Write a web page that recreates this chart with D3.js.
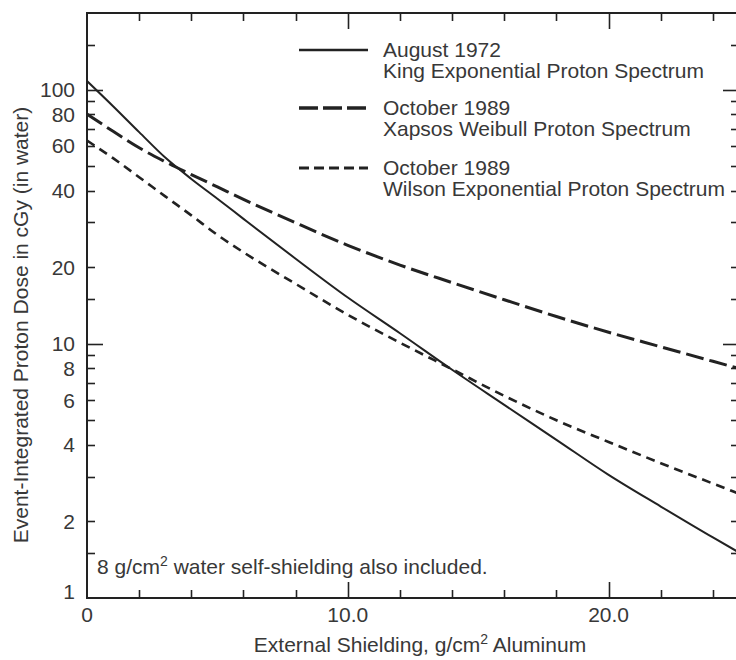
<!DOCTYPE html>
<html>
<head>
<meta charset="utf-8">
<script src="https://cdn.jsdelivr.net/npm/d3@7"></script>
<style>
  html, body { margin: 0; padding: 0; background: #fff; }
  svg { display: block; font-family: "Liberation Sans", Arial, Helvetica, sans-serif; }
</style>
</head>
<body>
<div id="chart"></div>
<script>
// ---- data ----
const shielding = [0, 1, 2, 3, 4, 5, 6, 8, 10, 12, 14, 16, 18, 20, 22, 24, 25];
const kingAug1972 = [108, 86, 68, 54, 44.5, 37.2, 31.0, 21.6, 15.2, 11.0, 7.9, 5.75, 4.19, 3.05, 2.29, 1.73, 1.51];
const xapsosOct1989 = [80, 68.5, 59, 52, 46.3, 41.4, 37, 29.9, 24.4, 20.4, 17.4, 14.9, 12.8, 11.1, 9.73, 8.53, 8.0];
const wilsonOct1989 = [63, 53.7, 45.2, 38, 32, 26.8, 22.9, 17.2, 13.0, 10.1, 7.94, 6.24, 5.0, 4.11, 3.39, 2.82, 2.57];

const yTickValues = [1.5, 2, 3, 4, 5, 6, 7, 8, 9, 10, 15, 20, 30, 40, 50, 60, 70, 80, 90, 100, 150];
const yMajorTicks = [10, 100];
const yTickLabels = [1, 2, 4, 6, 8, 10, 20, 40, 60, 80, 100];
const xTickValues = [2, 4, 6, 8, 10, 12, 14, 16, 18, 20, 22, 24];
const xMajorTicks = [10, 20];
const xTickLabels = [[0, "0"], [10, "10.0"], [20, "20.0"]];

const seriesNames = [
  ["August 1972", "King Exponential Proton Spectrum"],
  ["October 1989", "Xapsos Weibull Proton Spectrum"],
  ["October 1989", "Wilson Exponential Proton Spectrum"]
];

// ---- layout ----
const W = 736, H = 660;
const pL = 87, pR = 739, pT = 13, pB = 598;
const ink = "#222", textInk = "#383838";

const svg = d3.select("#chart").append("svg").attr("width", W).attr("height", H);

const x = d3.scaleLinear().domain([0, 25]).range([pL, pR]);
const y = d3.scaleLog().domain([1, 200]).range([pB, pT]);

// frame
svg.append("rect").attr("x", pL).attr("y", pT).attr("width", pR - pL).attr("height", pB - pT)
  .attr("fill", "none").attr("stroke", ink).attr("stroke-width", 2);

// y ticks left/right
const yt = svg.append("g").attr("stroke", ink).attr("stroke-width", 1.6);
yTickValues.forEach(v => {
  const len = yMajorTicks.includes(v) ? 16 : 8;
  const yy = Math.round(y(v)) + 0.5;
  yt.append("line").attr("x1", pL).attr("x2", pL + len).attr("y1", yy).attr("y2", yy);
  yt.append("line").attr("x1", pR).attr("x2", pR - len).attr("y1", yy).attr("y2", yy);
});
// x ticks bottom/top
xTickValues.forEach(v => {
  const len = xMajorTicks.includes(v) ? 16 : 8;
  const xx = Math.round(x(v)) + 0.5;
  yt.append("line").attr("x1", xx).attr("x2", xx).attr("y1", pB).attr("y2", pB - len);
  yt.append("line").attr("x1", xx).attr("x2", xx).attr("y1", pT).attr("y2", pT + len);
});

// tick labels
const fs = 21;
svg.append("g").selectAll("text").data(yTickLabels).join("text")
  .attr("x", pL - 12).attr("y", d => y(d) + (d === 1 ? 1 : 7.5))
  .attr("text-anchor", "end").attr("font-size", fs).attr("fill", textInk)
  .text(d => d);
svg.append("g").selectAll("text").data(xTickLabels).join("text")
  .attr("x", d => x(d[0])).attr("y", 622)
  .attr("text-anchor", "middle").attr("font-size", fs).attr("fill", textInk)
  .text(d => d[1]);

// axis titles
const xt = svg.append("text").attr("x", 420).attr("y", 652)
  .attr("text-anchor", "middle").attr("font-size", fs).attr("fill", textInk);
xt.append("tspan").text("External Shielding, g/cm");
xt.append("tspan").attr("dy", -8).attr("font-size", 14).text("2");
xt.append("tspan").attr("dy", 8).text(" Aluminum");

svg.append("text").attr("transform", "translate(28, 325) rotate(-90)")
  .attr("text-anchor", "middle").attr("font-size", fs).attr("fill", textInk)
  .text("Event-Integrated Proton Dose in cGy (in water)");

// annotation
const an = svg.append("text").attr("x", 97).attr("y", 574).attr("font-size", fs).attr("fill", textInk);
an.append("tspan").text("8 g/cm");
an.append("tspan").attr("dy", -8).attr("font-size", 14).text("2");
an.append("tspan").attr("dy", 8).text(" water self-shielding also included.");

// series
const styles = [
  { w: 2, dash: null },
  { w: 3, dash: "18,6" },
  { w: 2.6, dash: "9,6" }
];
const allSeries = [kingAug1972, xapsosOct1989, wilsonOct1989];
const line = d3.line().x(d => x(d[0])).y(d => y(d[1])).curve(d3.curveMonotoneX);
svg.append("clipPath").attr("id", "plotclip").append("rect")
  .attr("x", pL).attr("y", pT).attr("width", pR - pL).attr("height", pB - pT);
allSeries.forEach((vals, i) => {
  svg.append("path").datum(shielding.map((s, j) => [s, vals[j]]))
    .attr("d", line).attr("fill", "none").attr("stroke", ink)
    .attr("stroke-width", styles[i].w)
    .attr("stroke-dasharray", styles[i].dash)
    .attr("clip-path", "url(#plotclip)");
});

// legend
const legY = [50, 108, 168];
seriesNames.forEach((nm, i) => {
  svg.append("line").attr("x1", 299).attr("x2", 368).attr("y1", legY[i]).attr("y2", legY[i])
    .attr("stroke", ink).attr("stroke-width", styles[i].w + 0.4)
    .attr("stroke-dasharray", i === 1 ? "19,5" : (i === 2 ? "10,5" : null));
  svg.append("text").attr("x", 383).attr("y", legY[i] + 7).attr("font-size", fs).attr("fill", textInk).text(nm[0]);
  svg.append("text").attr("x", 383).attr("y", legY[i] + 28).attr("font-size", fs).attr("fill", textInk).text(nm[1]);
});
</script>
</body>
</html>
